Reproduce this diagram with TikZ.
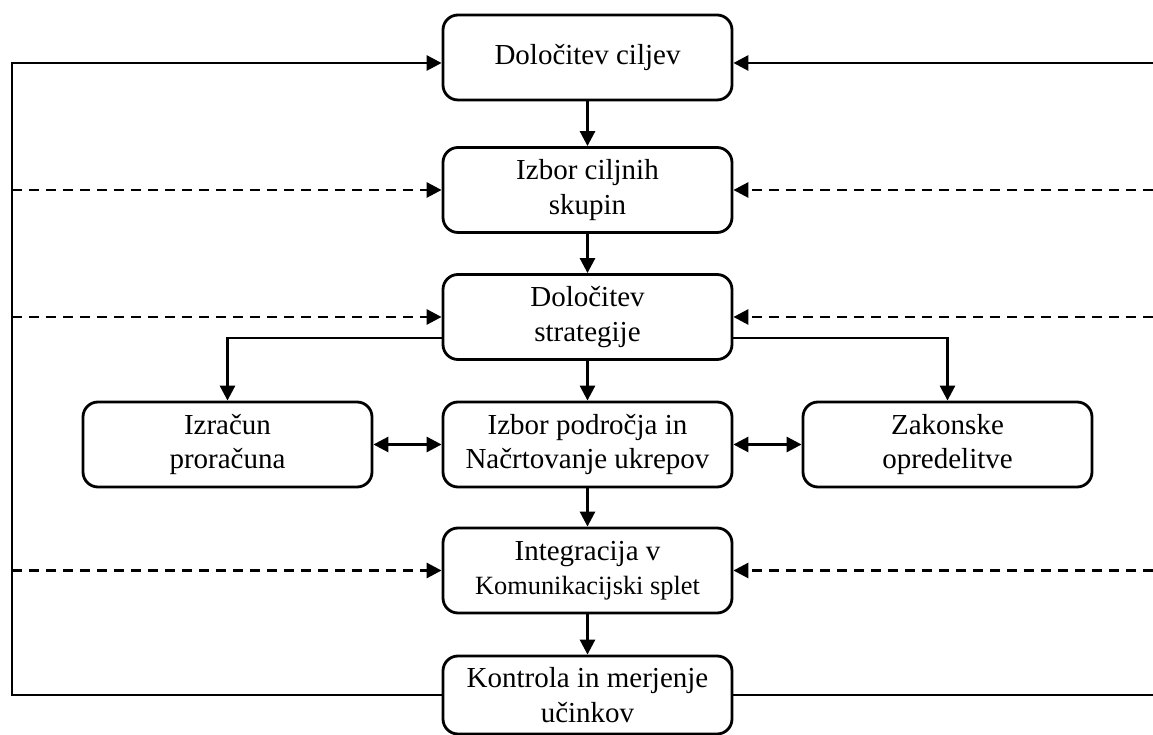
\documentclass[tikz,border=0pt]{standalone}
\usepackage{fontspec}
\setmainfont{Liberation Serif}
\usetikzlibrary{arrows.meta,calc}

\begin{document}
\begin{tikzpicture}[>={Triangle[length=3mm,width=3mm]},line width=1.6pt,font=\fontsize{16.5}{19.5}\selectfont]
\tikzstyle{b}=[draw,rounded corners=0.3cm,minimum width=5.78cm,minimum height=1.7cm,align=center,inner sep=2pt]
\tikzstyle{d}=[->,dash pattern=on 0.2cm off 0.14cm]
\useasboundingbox (0,0) rectangle (23.06,14.7);
\node[b] (cilj) at (11.75,13.55) {Določitev ciljev};
\node[b] (skup) at (11.75,10.9) {Izbor ciljnih\\ skupin};
\node[b] (strat) at (11.75,8.36) {Določitev\\ strategije};
\node[b] (ukrep) at (11.75,5.81) {Izbor področja in\\ Načrtovanje ukrepov};
\node[b] (prora) at (4.55,5.81) {Izračun\\ proračuna};
\node[b] (zakon) at (18.95,5.81) {Zakonske\\ opredelitve};
\node[b] (integ) at (11.75,3.29) {Integracija v\\ {\fontsize{15}{19.5}\selectfont Komunikacijski splet}};
\node[b,minimum height=1.56cm] (kontr) at (11.75,0.8) {Kontrola in merjenje\\ učinkov};
% povratna zanka
\coordinate (lt) at (0.24,13.44);
\coordinate (rt) at (23.06,13.44);
\draw[->] (kontr.west) -| (lt) -- (cilj.west |- lt);
\draw (kontr.east) -- (kontr.east -| rt);
\draw[->] (rt) -- (cilj.east |- rt);
\draw[d] (skup.west -| lt) -- (skup.west); \draw[d] (skup.east -| rt) -- (skup.east);
\draw[d] (strat.west -| lt) -- (strat.west); \draw[d] (strat.east -| rt) -- (strat.east);
\draw[d] (integ.west -| lt) -- (integ.west); \draw[d] (integ.east -| rt) -- (integ.east);
% glavni tok
\draw[->] (cilj) -- (skup); \draw[->] (skup) -- (strat); \draw[->] (strat) -- (ukrep);
\draw[->] ([yshift=-0.42cm]strat.west) -| (prora); \draw[->] ([yshift=-0.42cm]strat.east) -| (zakon);
\draw[<->] (prora) -- (ukrep); \draw[<->] (ukrep) -- (zakon);
\draw[->] (ukrep) -- (integ); \draw[->] (integ) -- (kontr);
\end{tikzpicture}
\end{document}
